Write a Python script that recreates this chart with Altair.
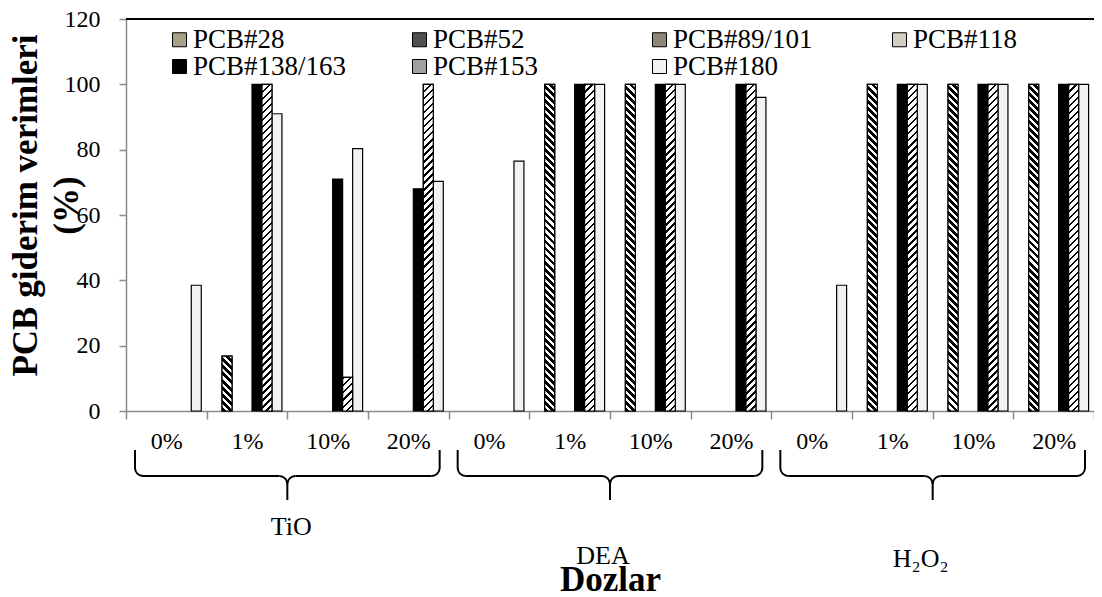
import math
import altair as alt
import pandas as pd

# ---------------- data ----------------
GROUPS = ["TiO", "DEA", "H₂O₂"]
DOSES = ["0%", "1%", "10%", "20%"]
SERIES = ["PCB#28", "PCB#52", "PCB#89/101", "PCB#118", "PCB#138/163", "PCB#153", "PCB#180"]

# values per series, order: TiO 0/1/10/20, DEA 0/1/10/20, H2O2 0/1/10/20
PCB28 = [0, 0, 0, 0, 0, 0, 0, 0, 0, 0, 0, 0]
PCB52 = [0, 16.8, 0, 0, 0, 100, 100, 0, 0, 100, 100, 100]
PCB89_101 = [0, 0, 0, 0, 0, 0, 0, 0, 0, 0, 0, 0]
PCB118 = [0, 0, 0, 0, 0, 0, 0, 0, 0, 0, 0, 0]
PCB138_163 = [0, 100, 71, 68, 0, 100, 100, 100, 0, 100, 100, 100]
PCB153 = [0, 100, 10.3, 100, 0, 100, 100, 100, 0, 100, 100, 100]
PCB180 = [38.5, 91, 80.3, 70.3, 76.5, 100, 100, 96, 38.5, 100, 100, 100]
Y_TICKS = [0, 20, 40, 60, 80, 100, 120]

VALUES = [PCB28, PCB52, PCB89_101, PCB118, PCB138_163, PCB153, PCB180]
KEYS = [f"{g}|{d}" for g in GROUPS for d in DOSES]

rows = []
for s, vals in zip(SERIES, VALUES):
    for k, v in zip(KEYS, vals):
        rows.append({"key": k, "series": s, "value": v})
df = pd.DataFrame(rows)

grp_df = pd.DataFrame({
    "group": GROUPS,
    "first": [f"{g}|{DOSES[0]}" for g in GROUPS],
    "mid": [f"{g}|{DOSES[2]}" for g in GROUPS],
    "last": [f"{g}|{DOSES[-1]}" for g in GROUPS],
})

# ---------------- styling / layout ----------------
FONT = "Liberation Serif"
W, H = 968, 392
PAD = {"left": 118, "top": 11, "right": 0, "bottom": 180}
YMAX = 120
CAT_W = W / len(KEYS)
PO = 0.54
BAR_W = CAT_W / (len(SERIES) + 2 * PO)

FILLS = ["#a8a18a", "#505050", "#8c8672", "#d2cfc0", "#000000", "#a0a0a0", "#f2f2f2"]
GRAY = "#8a8a8a"
LABEL_Y = [508, 537, 540]   # group label vertical positions (px below plot top)
LABEL_DX = [4, -7, -12]     # small horizontal nudges of the group labels

x_scale = alt.Scale(domain=KEYS, paddingInner=0, paddingOuter=0)
y_scale = alt.Scale(domain=[0, YMAX])


def stripes(direction, value, period, frac):
    w = BAR_W
    h = value / YMAX * H
    k = (w + h) / (w * w + h * h)
    n = max(1, round((w + h) / period))
    stops = []
    for i in range(n):
        a, b, c = i / n, (i + frac) / n, (i + 1) / n
        stops += [
            alt.GradientStop(color="black", offset=a),
            alt.GradientStop(color="black", offset=b),
            alt.GradientStop(color="white", offset=b),
            alt.GradientStop(color="white", offset=c),
        ]
    if direction == "\\":
        x1, y1, x2, y2 = 0, 1, k * w, 1 - k * h
    else:
        x1, y1, x2, y2 = 0, 0, k * w, k * h
    return alt.Gradient(gradient="linear", stops=stops, x1=x1, y1=y1, x2=x2, y2=y2)


base = alt.Chart(df)

x_enc = alt.X(
    "key:N", sort=KEYS, scale=x_scale, title="Dozlar",
    axis=alt.Axis(
        tickBand="extent", labelExpr="split(datum.value, '|')[1]", labelAngle=0,
        labelOverlap=False, labelFont=FONT, labelFontSize=24, labelColor="black",
        labelPadding=10, tickSize=8, tickColor=GRAY, domainColor=GRAY, domainWidth=1.5,
        tickWidth=1.5, grid=False, titleFont=FONT, titleFontSize=35, titleFontWeight="bold",
        titleColor="black", titleY=179, titleBaseline="alphabetic",
    ),
)
xo_enc = alt.XOffset("series:N", scale=alt.Scale(domain=SERIES, paddingInner=0, paddingOuter=PO))
y_enc = alt.Y(
    "value:Q", scale=y_scale,
    title=["PCB giderim verimleri", "(%)"],
    axis=alt.Axis(
        values=Y_TICKS, grid=False, tickSize=7, tickColor=GRAY, tickWidth=1.5,
        domainColor=GRAY, domainWidth=1.5, labelFont=FONT, labelFontSize=24,
        labelColor="black", labelPadding=19, titleFont=FONT, titleFontSize=35,
        titleFontWeight="bold", titleColor="black", titleAngle=270, titleX=-101,
        titleY=186, titleAlign="center", titleBaseline="middle", titleLineHeight=41,
    ),
)

bars = base.transform_filter("datum.value > 0").mark_bar(stroke="black", strokeWidth=1.2).encode(
    x=x_enc, xOffset=xo_enc, y=y_enc,
    fill=alt.Fill(
        "series:N", scale=alt.Scale(domain=SERIES, range=FILLS),
        legend=alt.Legend(
            title=None, orient="none", legendX=40, legendY=7, direction="horizontal",
            columns=4, gridAlign="all", columnPadding=59, rowPadding=-2,
            symbolType="square", symbolSize=196, symbolStrokeColor="black",
            symbolStrokeWidth=1, labelFont=FONT, labelFontSize=27, labelColor="black",
            labelOffset=0, labelLimit=300, padding=0,
        ),
    ),
)

layers = [bars]

PATTERNS = {"PCB#52": ("\\", 7.0, 0.55), "PCB#153": ("/", 7.0, 0.32)}
for s, (direction, period, frac) in PATTERNS.items():
    vals = sorted(set(v for v in df[df.series == s].value if v > 0))
    for v in vals:
        layers.append(
            base.transform_filter(alt.FieldEqualPredicate(field="series", equal=s))
            .transform_filter(alt.FieldEqualPredicate(field="value", equal=v))
            .mark_bar(stroke="black", strokeWidth=1.2, fill=stripes(direction, v, period, frac))
            .encode(x=alt.X("key:N", sort=KEYS, scale=x_scale), xOffset=xo_enc,
                    y=alt.Y("value:Q", scale=y_scale))
        )

# top border of plot area
top_line = base.mark_rule(color="black", strokeWidth=2.2).encode(
    y=alt.datum(YMAX), x=alt.value(0), x2=alt.value(W)
)
layers.append(top_line)

# curly braces under the groups
gb = alt.Chart(grp_df)
BR_TOP, BR_CORNER, BR_MID, BR_TIP, BR_BOT = 431, 449, 457, 465, 481
INSET, R, LW = 9, 8, 2
xf = alt.X("first:N", bandPosition=0, scale=x_scale)
xl = alt.X("last:N", bandPosition=1, scale=x_scale)
xm = alt.X("mid:N", bandPosition=0, scale=x_scale)

layers += [
    gb.mark_rule(color="black", strokeWidth=LW, xOffset=INSET).encode(
        x=xf, y=alt.value(BR_TOP), y2=alt.value(BR_CORNER)),
    gb.mark_rule(color="black", strokeWidth=LW, xOffset=-INSET).encode(
        x=xl, y=alt.value(BR_TOP), y2=alt.value(BR_CORNER)),
    gb.mark_rule(color="black", strokeWidth=LW, xOffset=INSET + R, x2Offset=-R).encode(
        x=xf, x2=alt.X2("mid:N", bandPosition=0), y=alt.value(BR_MID)),
    gb.mark_rule(color="black", strokeWidth=LW, xOffset=R, x2Offset=-INSET - R).encode(
        x=xm, x2=alt.X2("last:N", bandPosition=1), y=alt.value(BR_MID)),
    gb.mark_rule(color="black", strokeWidth=LW).encode(
        x=xm, y=alt.value(BR_TIP), y2=alt.value(BR_BOT)),
]

ARCS = [
    (xf, INSET + R, BR_CORNER, math.pi, 1.5 * math.pi),
    (xl, -INSET - R, BR_CORNER, 0.5 * math.pi, math.pi),
    (xm, -R, BR_TIP, 0.0, 0.5 * math.pi),
    (xm, R, BR_TIP, 1.5 * math.pi, 2 * math.pi),
]
for xenc, dx, cy, t0, t1 in ARCS:
    layers.append(
        gb.mark_arc(color="black", xOffset=dx).encode(
            x=xenc, y=alt.value(cy), theta=alt.value(t0), theta2=alt.value(t1),
            radius=alt.value(R + LW / 2), radius2=alt.value(R - LW / 2))
    )

for g, ly, ldx in zip(GROUPS, LABEL_Y, LABEL_DX):
    layers.append(
        gb.transform_filter(alt.FieldEqualPredicate(field="group", equal=g))
        .mark_text(font=FONT, fontSize=26, color="black", baseline="middle", align="center",
                   dx=ldx)
        .encode(x=alt.X("mid:N", bandPosition=0, scale=x_scale), y=alt.value(ly), text="group:N")
    )

chart = (
    alt.layer(*layers)
    .properties(width=W, height=H, autosize=alt.AutoSizeParams(type="none"), padding=PAD,
                background="white")
    .configure(font=FONT)
    .configure_view(stroke=None)
)

chart.save("out.html", embed_options={"renderer": "svg", "actions": False})
